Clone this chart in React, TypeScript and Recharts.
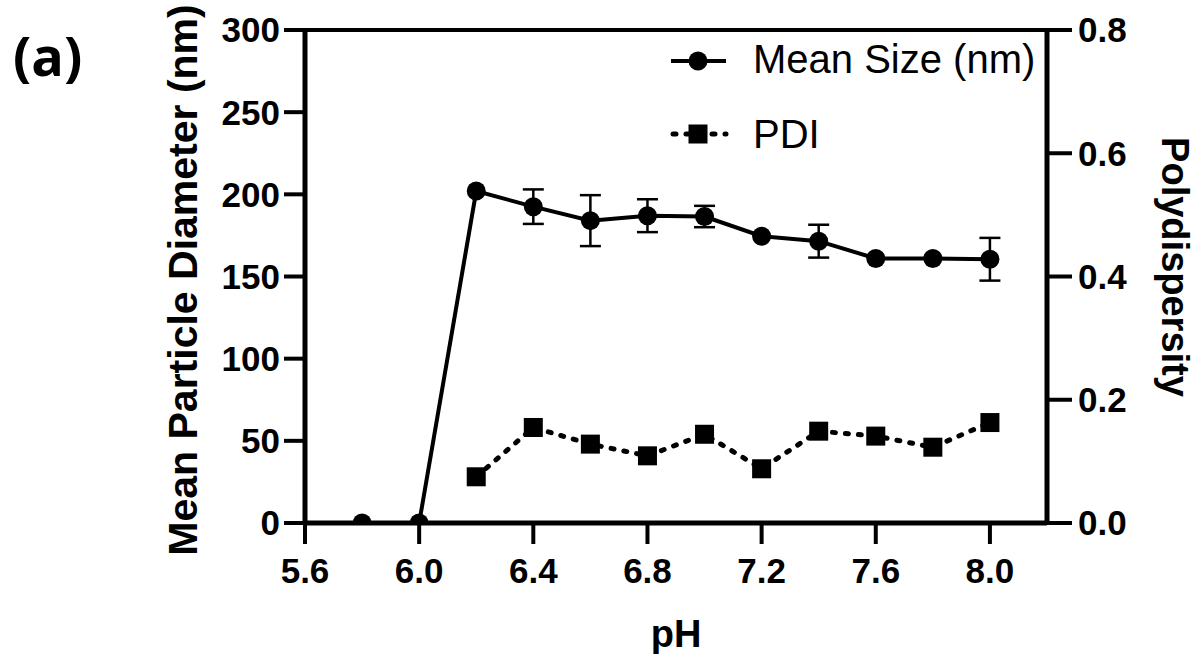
import React from "react";
import {
    ComposedChart,
    Line,
    XAxis,
    YAxis,
    ErrorBar,
    ReferenceLine,
    Legend,
} from "recharts";

// pH 값과 측정값
const phValues = [5.8, 6.0, 6.2, 6.4, 6.6, 6.8, 7.0, 7.2, 7.4, 7.6, 7.8, 8.0];
const meanSize = [0, 0, 202, 192.5, 184, 187, 186.5, 174.5, 171.5, 161, 161, 160.5];
const meanSizeErr = [0, 0, 0, 10.5, 15.5, 10, 6.5, 0, 10, 0, 0, 13];
const pdiValues = [null, null, 0.075, 0.155, 0.128, 0.109, 0.144, 0.088, 0.149, 0.141, 0.123, 0.163];

const xTicks = [5.6, 6.0, 6.4, 6.8, 7.2, 7.6, 8.0];
const leftTicks = [0, 50, 100, 150, 200, 250, 300];
const rightTicks = [0, 0.2, 0.4, 0.6, 0.8];

const data = phValues.map((ph, i) => ({
    ph,
    size: meanSize[i],
    err: meanSizeErr[i],
    pdi: pdiValues[i],
}));

const FONT = "'Liberation Sans', Arial, sans-serif";
const tickStyle = { fill: "#000", fontSize: 35, fontWeight: 700, fontFamily: FONT };
const DASH = "3 10";

const SquareDot = (props: any) => {
    const { cx, cy, index } = props;
    if (cx == null || cy == null) return <g key={`sq-${index}`} />;
    return <rect key={`sq-${index}`} x={cx - 9.5} y={cy - 9.5} width={19} height={19} fill="#000" />;
};

const leftTitle = () => (
    <text
        x={197}
        y={280}
        transform="rotate(-90, 197, 280)"
        textAnchor="middle"
        fontSize={41}
        fontWeight={700}
        fontFamily={FONT}
        fill="#000"
    >
        Mean Particle Diameter (nm)
    </text>
);

const rightTitle = () => (
    <text
        x={1162}
        y={267}
        transform="rotate(90, 1162, 267)"
        textAnchor="middle"
        fontSize={38}
        fontWeight={700}
        fontFamily={FONT}
        fill="#000"
    >
        Polydispersity
    </text>
);

const bottomTitle = () => (
    <text x={676} y={647} textAnchor="middle" fontSize={38} fontWeight={700} fontFamily={FONT} fill="#000">
        pH
    </text>
);

// 범례 (그래프 안 오른쪽 위)
const renderLegend = () => (
    <svg width={400} height={140} style={{ display: "block" }}>
        <line x1={11} y1={36} x2={66} y2={36} stroke="#000" strokeWidth={4} />
        <circle cx={38} cy={36} r={9.5} fill="#000" />
        <text x={93} y={48} fontSize={40} fontFamily={FONT} fill="#000">
            Mean Size (nm)
        </text>
        <line
            x1={13}
            y1={109}
            x2={66}
            y2={109}
            stroke="#000"
            strokeWidth={5}
            strokeDasharray={DASH}
            strokeLinecap="round"
        />
        <rect x={28.5} y={99.5} width={19} height={19} fill="#000" />
        <text x={93} y={123} fontSize={40} fontFamily={FONT} fill="#000">
            PDI
        </text>
    </svg>
);

export default function App() {
    return (
        <div style={{ position: "absolute", left: 0, top: 0, width: 1195, height: 654, background: "#fff" }}>
            <svg width={100} height={100} style={{ position: "absolute", left: 0, top: 0 }}>
                <text x={13} y={76} fontSize={54} fontWeight={700} fontFamily="'Open Sans', sans-serif" fill="#000">
                    (a)
                </text>
            </svg>
            <ComposedChart
                width={1195}
                height={654}
                data={data}
                margin={{ top: 30, right: 0, bottom: 0, left: 0 }}
            >
                <XAxis
                    dataKey="ph"
                    type="number"
                    domain={[5.6, 8.2]}
                    ticks={xTicks}
                    allowDataOverflow
                    tickFormatter={(v: number) => v.toFixed(1)}
                    height={131}
                    tick={tickStyle}
                    tickSize={21}
                    tickMargin={14}
                    axisLine={{ stroke: "#000", strokeWidth: 5 }}
                    tickLine={{ stroke: "#000", strokeWidth: 4 }}
                    label={bottomTitle}
                />
                <YAxis
                    yAxisId="left"
                    domain={[0, 300]}
                    ticks={leftTicks}
                    allowDataOverflow
                    width={305}
                    tick={tickStyle}
                    tickSize={21}
                    tickMargin={4}
                    axisLine={{ stroke: "#000", strokeWidth: 5 }}
                    tickLine={{ stroke: "#000", strokeWidth: 4 }}
                    label={leftTitle}
                />
                <YAxis
                    yAxisId="right"
                    orientation="right"
                    domain={[0, 0.8]}
                    ticks={rightTicks}
                    allowDataOverflow
                    tickFormatter={(v: number) => v.toFixed(1)}
                    width={148}
                    tick={tickStyle}
                    tickSize={25}
                    tickMargin={6}
                    axisLine={{ stroke: "#000", strokeWidth: 5 }}
                    tickLine={{ stroke: "#000", strokeWidth: 4 }}
                    label={rightTitle}
                />
                <ReferenceLine yAxisId="left" y={300} stroke="#000" strokeWidth={4} />
                <Legend
                    layout="vertical"
                    align="center"
                    verticalAlign="middle"
                    content={renderLegend}
                    wrapperStyle={{ left: 660, top: 25, width: 400, height: 140 }}
                />
                <Line
                    yAxisId="right"
                    dataKey="pdi"
                    type="linear"
                    stroke="#000"
                    strokeWidth={5}
                    strokeDasharray={DASH}
                    strokeLinecap="round"
                    dot={SquareDot}
                    activeDot={false}
                    isAnimationActive={false}
                />
                <Line
                    yAxisId="left"
                    dataKey="size"
                    type="linear"
                    stroke="#000"
                    strokeWidth={4}
                    dot={{ r: 9.5, fill: "#000", stroke: "#000", strokeWidth: 0 }}
                    activeDot={false}
                    isAnimationActive={false}
                >
                    <ErrorBar dataKey="err" direction="y" width={10.5} strokeWidth={2.5} stroke="#000" />
                </Line>
            </ComposedChart>
        </div>
    );
}
